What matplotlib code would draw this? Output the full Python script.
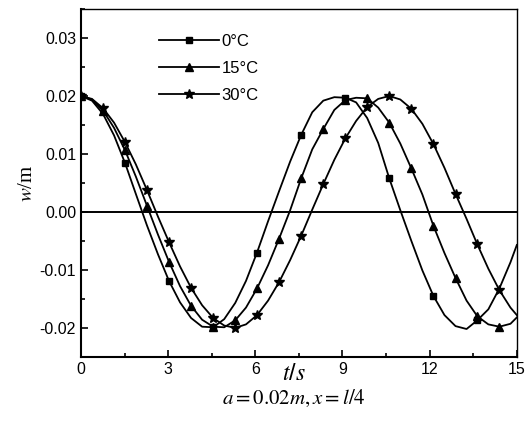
import matplotlib
matplotlib.use("Agg")
import matplotlib.pyplot as plt
from matplotlib.ticker import MultipleLocator, FormatStrFormatter

plt.rcParams["font.family"] = ["Liberation Sans", "DejaVu Sans"]
plt.rcParams["axes.unicode_minus"] = False
plt.rcParams["mathtext.fontset"] = "stix"

# time samples (s)
t = [0.00, 0.38, 0.76, 1.14, 1.52, 1.89, 2.27, 2.65, 3.03, 3.41,
     3.79, 4.17, 4.55, 4.93, 5.31, 5.68, 6.06, 6.44, 6.82, 7.20,
     7.58, 7.96, 8.34, 8.72, 9.10, 9.47, 9.85, 10.23, 10.61, 10.99,
     11.37, 11.75, 12.13, 12.51, 12.89, 13.27, 13.64, 14.02, 14.40, 14.78,
     15.00]

# deflection w (m)
w_0 = [0.0200, 0.0192, 0.0169, 0.0132, 0.0084, 0.0031, -0.0023, -0.0073, -0.0119, -0.0156,
       -0.0183, -0.0198, -0.0199, -0.0185, -0.0157, -0.0119, -0.0070, -0.0016, 0.0036, 0.0087,
       0.0133, 0.0172, 0.0192, 0.0198, 0.0197, 0.0189, 0.0162, 0.0119, 0.0058, 0.0003,
       -0.0050, -0.0101, -0.0145, -0.0178, -0.0197, -0.0202, -0.0187, -0.0168, -0.0132, -0.0087,
       -0.0057]
w_15 = [0.0200, 0.0194, 0.0175, 0.0145, 0.0106, 0.0061, 0.0011, -0.0039, -0.0086, -0.0128,
        -0.0162, -0.0186, -0.0198, -0.0199, -0.0187, -0.0165, -0.0132, -0.0092, -0.0046, 0.0003,
        0.0058, 0.0108, 0.0143, 0.0176, 0.0193, 0.0197, 0.0196, 0.0180, 0.0154, 0.0118,
        0.0075, 0.0030, -0.0024, -0.0071, -0.0114, -0.0153, -0.0180, -0.0194, -0.0198, -0.0193,
        -0.0182]
w_30 = [0.0200, 0.0195, 0.0179, 0.0154, 0.0120, 0.0082, 0.0038, -0.0008, -0.0052, -0.0094,
        -0.0131, -0.0161, -0.0183, -0.0196, -0.0200, -0.0194, -0.0178, -0.0153, -0.0121, -0.0083,
        -0.0041, 0.0004, 0.0048, 0.0090, 0.0127, 0.0157, 0.0181, 0.0195, 0.0200, 0.0194,
        0.0178, 0.0152, 0.0117, 0.0076, 0.0031, -0.0012, -0.0056, -0.0098, -0.0135, -0.0165,
        -0.0178]

labels = ["0°C", "15°C", "30°C"]

fig = plt.figure(figsize=(5.29, 4.32), dpi=100)
ax = fig.add_axes([0.153, 0.174, 0.824, 0.805])

ax.axhline(0, color="k", lw=1.4, zorder=1)
ax.plot(t, w_0, "-s", color="k", lw=1.3, ms=5, markevery=slice(0, 39, 4), label=labels[0])
ax.plot(t, w_15, "-^", color="k", lw=1.3, ms=6, markevery=slice(0, 39, 2), label=labels[1])
ax.plot(t, w_30, "-*", color="k", lw=1.3, ms=7, markevery=slice(0, 39, 2), label=labels[2])

ax.set_xlim(0, 15)
ax.set_ylim(-0.025, 0.035)
ax.xaxis.set_major_locator(MultipleLocator(3))
ax.xaxis.set_minor_locator(MultipleLocator(1.5))
ax.yaxis.set_major_locator(MultipleLocator(0.01))
ax.yaxis.set_minor_locator(MultipleLocator(0.005))
ax.yaxis.set_major_formatter(FormatStrFormatter("%.2f"))
ax.tick_params(which="both", direction="in", top=False, right=False, labelsize=11.5)
ax.tick_params(which="major", length=5, width=1.2)
ax.tick_params(which="minor", length=3, width=1.2)
for s in ax.spines.values():
    s.set_linewidth(1.0)
ax.spines["left"].set_linewidth(1.5)
ax.spines["bottom"].set_linewidth(1.5)

ax.legend(loc="upper left", bbox_to_anchor=(0.145, 0.972), frameon=False,
          handlelength=3.6, handletextpad=0.15, labelspacing=0.72, fontsize=12)

ax.set_ylabel(r"$w$/m", family="Liberation Serif", fontsize=15, labelpad=2)
fig.text(0.555, 0.135, r"$t$/$s$", ha="center", va="center", fontsize=17)
fig.text(0.555, 0.078, r"$a=0.02m, x=l/4$", ha="center", va="center", fontsize=15)

fig.savefig("out.png", dpi=100)
